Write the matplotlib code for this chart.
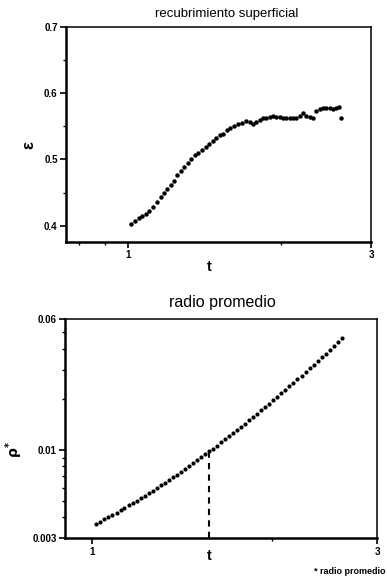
import matplotlib
matplotlib.use("Agg")
import matplotlib.pyplot as plt
from matplotlib.ticker import FixedLocator, NullFormatter, FixedFormatter

plt.rcParams['font.family'] = ['Liberation Sans', 'DejaVu Sans']

# ---- data: surface coverage (top) ----
t_cov = [1.012, 1.031, 1.050, 1.065, 1.082, 1.098, 1.118, 1.137, 1.158, 1.175,
         1.193, 1.213, 1.231, 1.250, 1.269, 1.290, 1.310, 1.331, 1.352, 1.372,
         1.397, 1.420, 1.441, 1.466, 1.488, 1.513, 1.536, 1.562, 1.586, 1.612,
         1.644, 1.674, 1.708, 1.733, 1.759, 1.786, 1.813, 1.840, 1.869, 1.897,
         1.925, 1.955, 1.984, 2.015, 2.046, 2.077, 2.108, 2.141, 2.173, 2.205,
         2.239, 2.273, 2.307, 2.335, 2.378, 2.414, 2.451, 2.488, 2.526, 2.564,
         2.591, 2.623]
cov = [0.403, 0.407, 0.411, 0.414, 0.418, 0.423, 0.429, 0.436, 0.443, 0.449,
       0.456, 0.462, 0.468, 0.476, 0.482, 0.489, 0.495, 0.500, 0.507, 0.510,
       0.514, 0.518, 0.523, 0.528, 0.532, 0.537, 0.539, 0.544, 0.548, 0.550,
       0.553, 0.555, 0.558, 0.556, 0.554, 0.556, 0.559, 0.562, 0.563, 0.564,
       0.565, 0.564, 0.564, 0.563, 0.562, 0.562, 0.563, 0.563, 0.565, 0.570,
       0.566, 0.564, 0.563, 0.573, 0.576, 0.578, 0.577, 0.577, 0.576, 0.578,
       0.579, 0.562]

# ---- data: mean radius (bottom) ----
t_rad = [1.016, 1.031, 1.048, 1.064, 1.081, 1.098, 1.115, 1.132, 1.150, 1.168,
         1.186, 1.205, 1.224, 1.243, 1.262, 1.282, 1.302, 1.322, 1.343, 1.364,
         1.385, 1.407, 1.429, 1.451, 1.474, 1.497, 1.521, 1.544, 1.569, 1.593,
         1.618, 1.643, 1.669, 1.695, 1.722, 1.749, 1.776, 1.804, 1.832, 1.861,
         1.890, 1.919, 1.949, 1.980, 2.011, 2.042, 2.074, 2.107, 2.140, 2.173,
         2.207, 2.242, 2.277, 2.313, 2.349, 2.386, 2.423, 2.461, 2.499, 2.539,
         2.578, 2.619]
rad = [0.00365, 0.00376, 0.00388, 0.00400, 0.00413, 0.00426, 0.00440, 0.00454,
       0.00470, 0.00485, 0.00502, 0.00519, 0.00537, 0.00556, 0.00576, 0.00597,
       0.00619, 0.00642, 0.00666, 0.00691, 0.00717, 0.00745, 0.00774, 0.00804,
       0.00836, 0.00870, 0.00905, 0.00943, 0.00982, 0.01022, 0.01065, 0.01111,
       0.01158, 0.01209, 0.01261, 0.01317, 0.01376, 0.01437, 0.01502, 0.01571,
       0.01643, 0.01720, 0.01800, 0.01885, 0.01975, 0.02070, 0.02170, 0.02276,
       0.02388, 0.02506, 0.02631, 0.02764, 0.02905, 0.03053, 0.03211, 0.03378,
       0.03556, 0.03744, 0.03945, 0.04156, 0.04381, 0.04619]

t_mark = 1.57
rad_mark = 0.0098

W, H = 387, 579
fig = plt.figure(figsize=(W / 100, H / 100), dpi=100)
fig.patch.set_facecolor('white')

def style_axes(ax):
    for side in ['left', 'bottom']:
        ax.spines[side].set_linewidth(1.8)
    for side in ['top', 'right']:
        ax.spines[side].set_linewidth(1.1)
    ax.tick_params(which='major', direction='out', length=4, width=1.2,
                   labelsize=7, pad=2)
    ax.tick_params(which='minor', direction='out', length=2.5, width=1.0)
    for lab in ax.get_xticklabels() + ax.get_yticklabels():
        lab.set_fontweight('bold')

# ---------- top panel ----------
ax1 = fig.add_axes([66 / W, 1 - 241.7 / H, 305 / W, 215 / H])
ax1.plot(t_cov, cov, 'o', color='black', ms=3.2, mew=0)
ax1.set_xscale('log')
ax1.set_xlim(0.755, 3)
ax1.set_ylim(0.376, 0.7)
ax1.xaxis.set_major_locator(FixedLocator([1, 3]))
ax1.xaxis.set_major_formatter(FixedFormatter(['1', '3']))
ax1.xaxis.set_minor_locator(FixedLocator([0.8, 0.9, 2]))
ax1.xaxis.set_minor_formatter(NullFormatter())
ax1.yaxis.set_major_locator(FixedLocator([0.4, 0.5, 0.6, 0.7]))
ax1.yaxis.set_major_formatter(FixedFormatter(['0.4', '0.5', '0.6', '0.7']))
ax1.yaxis.set_minor_locator(FixedLocator([0.45, 0.55, 0.65]))
style_axes(ax1)

fig.text(227 / W, 1 - 14 / H, 'recubrimiento superficial', ha='center',
         va='center', fontsize=9.5)
fig.text(209 / W, 1 - 267 / H, 't', ha='center', va='center', fontsize=10.5,
         fontweight='bold')
fig.text(29 / W, 1 - 145 / H, 'ε', ha='center', va='center', fontsize=12,
         fontweight='bold', rotation=90)

# ---------- bottom panel ----------
ax2 = fig.add_axes([65 / W, 1 - 538.3 / H, 312 / W, 219.3 / H])
ax2.plot(t_rad, rad, 'o', color='black', ms=3.0, mew=0)
ax2.plot([t_mark, t_mark], [0.003, rad_mark], color='black', lw=1.5,
         ls=(0, (3, 2.5)))
ax2.set_xscale('log')
ax2.set_yscale('log')
ax2.set_xlim(0.9, 3)
ax2.set_ylim(0.003, 0.06)
ax2.xaxis.set_major_locator(FixedLocator([1, 3]))
ax2.xaxis.set_major_formatter(FixedFormatter(['1', '3']))
ax2.xaxis.set_minor_locator(FixedLocator([2]))
ax2.xaxis.set_minor_formatter(NullFormatter())
ax2.yaxis.set_major_locator(FixedLocator([0.003, 0.01, 0.06]))
ax2.yaxis.set_major_formatter(FixedFormatter(['0.003', '0.01', '0.06']))
ax2.yaxis.set_minor_locator(FixedLocator([0.004, 0.005, 0.006, 0.007, 0.008,
                                          0.009, 0.02, 0.03, 0.04, 0.05]))
ax2.yaxis.set_minor_formatter(NullFormatter())
style_axes(ax2)

fig.text(222 / W, 1 - 302 / H, 'radio promedio', ha='center', va='center',
         fontsize=11.5)
fig.text(209 / W, 1 - 556 / H, 't', ha='center', va='center', fontsize=10.5,
         fontweight='bold')
fig.text(14 / W, 1 - 450 / H, r'$\mathbf{\rho^{*}}$', ha='center',
         va='center', fontsize=10, rotation=90)
fig.text(386 / W, 1 - 571 / H, '* radio promedio', ha='right', va='center',
         fontsize=6.5, fontweight='bold')

fig.savefig('out.png', dpi=100, facecolor='white')
